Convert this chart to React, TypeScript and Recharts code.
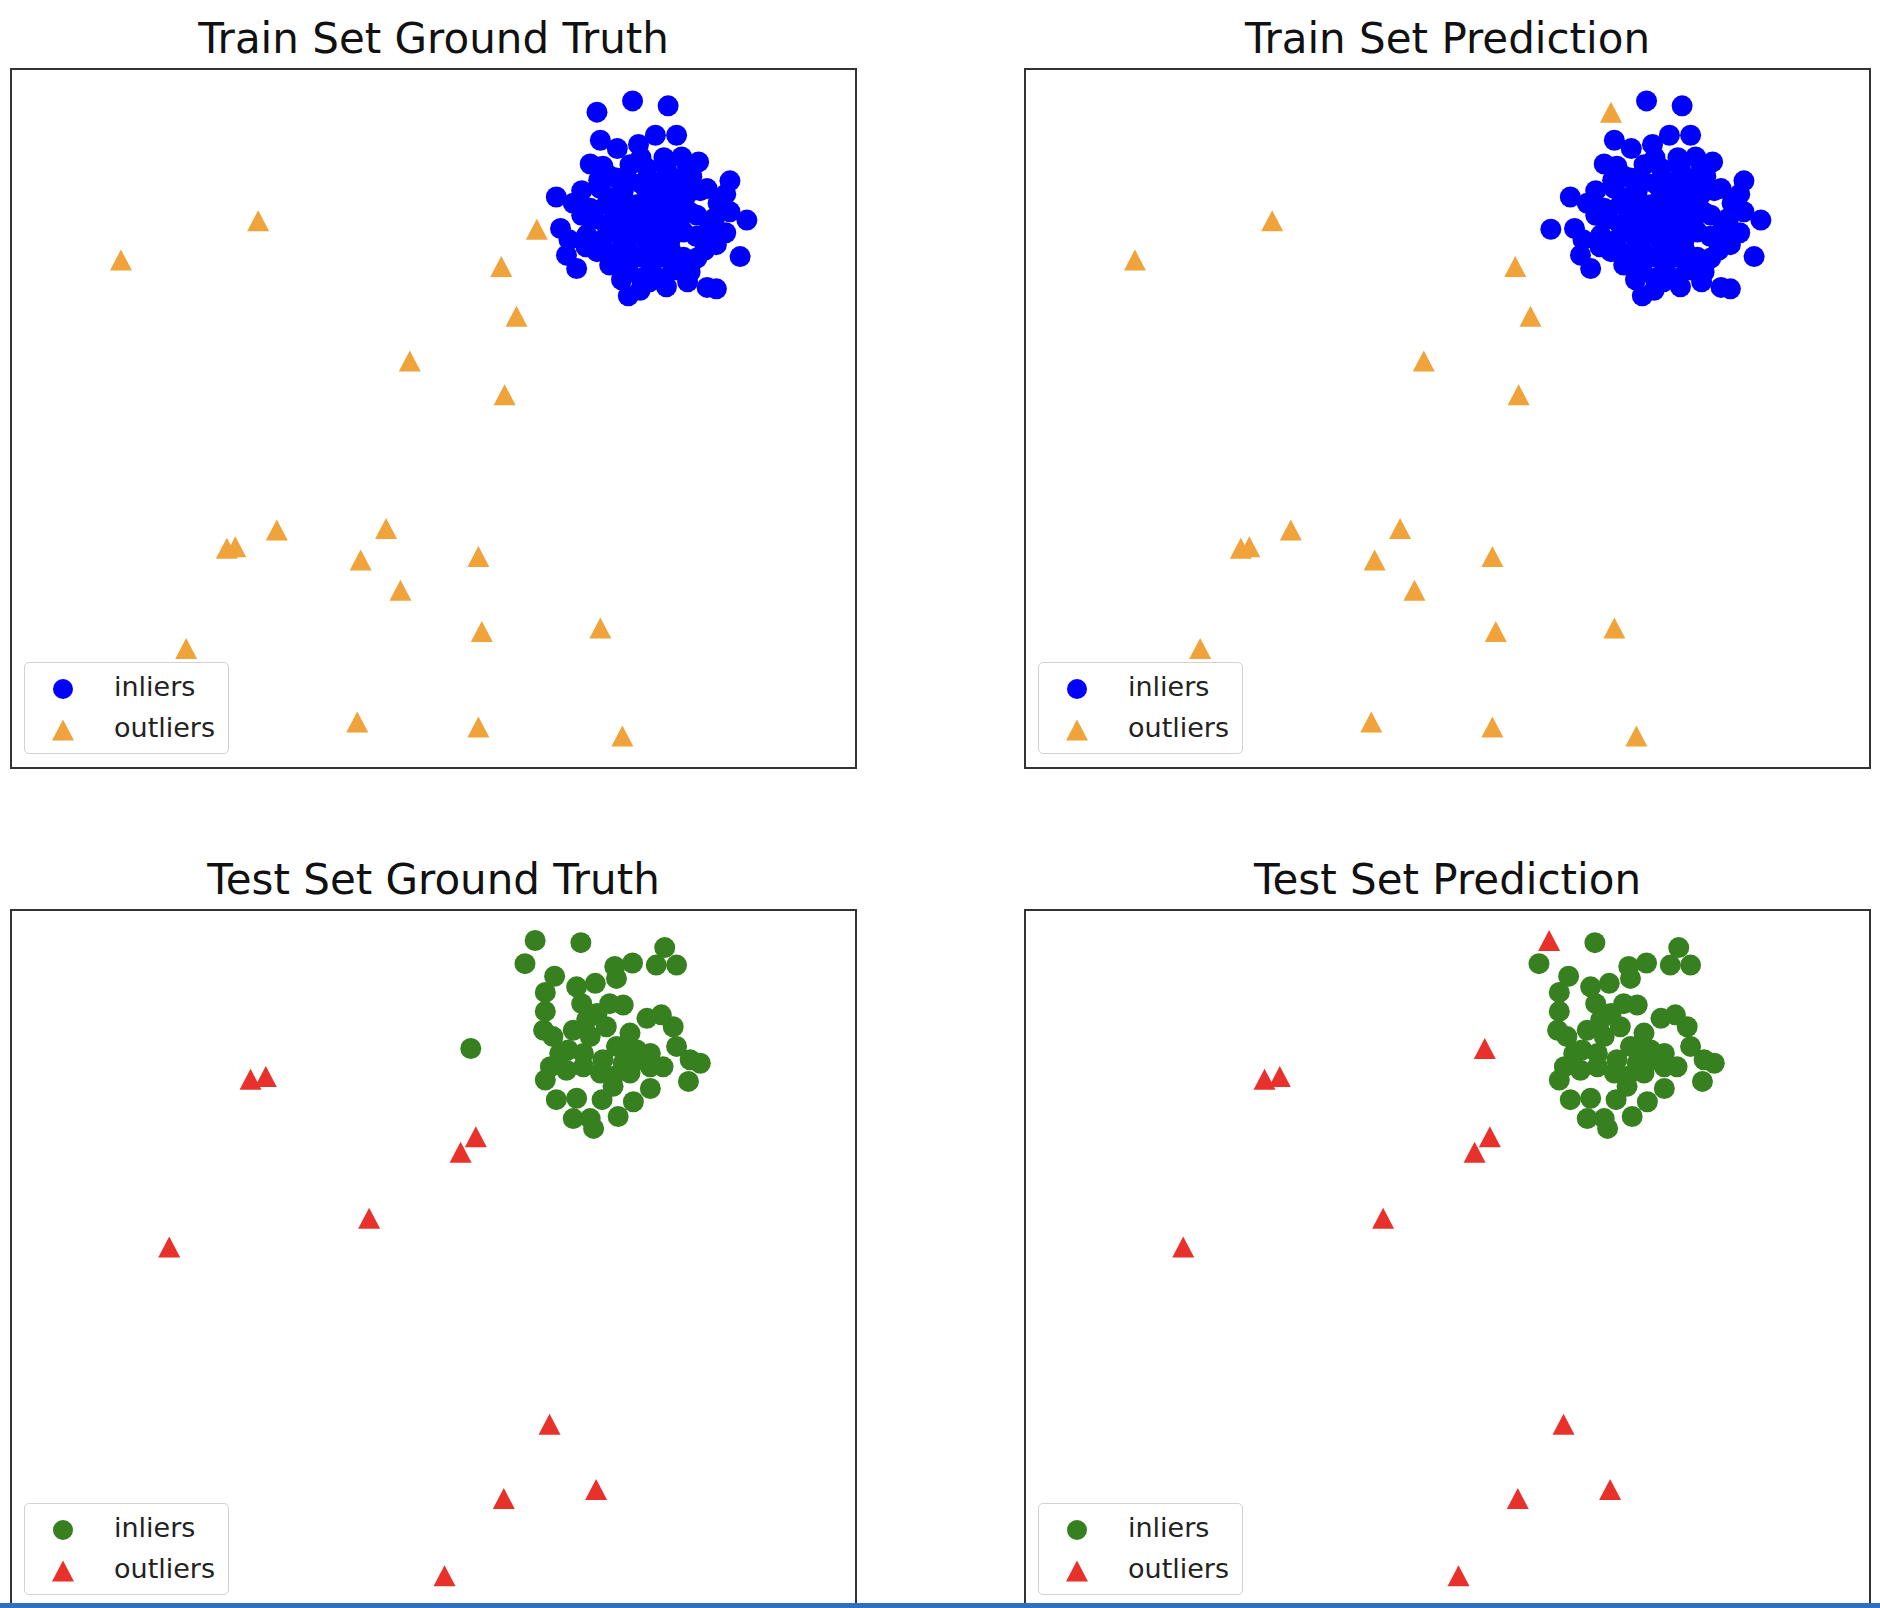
import { ScatterChart, Scatter, XAxis, YAxis, Legend } from 'recharts';

type Pt = { x: number; y: number };

// train set, inliers (the dense blob top right)
const trainInliers: Pt[] = [
  { x: 7.35, y: 9.53 }, { x: 7.77, y: 9.46 }, { x: 6.93, y: 9.37 }, { x: 6.97, y: 8.97 },
  { x: 7.17, y: 8.85 }, { x: 7.42, y: 8.91 }, { x: 7.62, y: 9.04 }, { x: 7.87, y: 9.04 },
  { x: 7.93, y: 8.73 }, { x: 8.13, y: 8.66 }, { x: 6.85, y: 8.63 }, { x: 8.5, y: 8.39 },
  { x: 6.45, y: 8.16 }, { x: 6.65, y: 8.07 }, { x: 8.7, y: 7.83 }, { x: 6.5, y: 7.71 },
  { x: 8.62, y: 7.31 }, { x: 6.57, y: 7.33 }, { x: 6.69, y: 7.14 }, { x: 7.22, y: 6.98 },
  { x: 7.3, y: 6.75 }, { x: 7.44, y: 6.83 }, { x: 7.75, y: 6.88 }, { x: 8.23, y: 6.87 },
  { x: 8.34, y: 6.85 }, { x: 8.36, y: 8.07 }, { x: 8.23, y: 8.28 }, { x: 8.34, y: 7.48 },
  { x: 8.03, y: 7.09 }, { x: 7.08, y: 8.46 }, { x: 7.32, y: 8.62 }, { x: 7.52, y: 8.57 },
  { x: 7.75, y: 8.57 }, { x: 8.05, y: 8.45 }, { x: 6.97, y: 8.28 }, { x: 6.85, y: 8.0 },
  { x: 6.81, y: 7.62 }, { x: 6.93, y: 7.38 }, { x: 7.08, y: 7.19 }, { x: 7.56, y: 7.09 },
  { x: 7.83, y: 7.14 }, { x: 8.11, y: 7.29 }, { x: 8.23, y: 7.66 }, { x: 8.11, y: 7.9 },
  { x: 8.32, y: 7.86 }, { x: 7.24, y: 8.24 }, { x: 7.52, y: 8.24 }, { x: 7.83, y: 8.24 },
  { x: 7.24, y: 7.86 }, { x: 7.52, y: 7.86 }, { x: 7.83, y: 7.86 }, { x: 7.24, y: 7.52 },
  { x: 7.52, y: 7.52 }, { x: 7.79, y: 7.52 }, { x: 7.04, y: 7.76 }, { x: 7.99, y: 8.19 },
  { x: 7.36, y: 7.29 }, { x: 7.67, y: 7.43 }, { x: 7.04, y: 8.05 }, { x: 7.95, y: 7.66 },
  { x: 7.4, y: 8.05 }, { x: 7.67, y: 8.05 }, { x: 7.67, y: 7.71 }, { x: 7.36, y: 7.66 },
  { x: 7.16, y: 8.43 }, { x: 7.83, y: 8.38 },
  { x: 6.75, y: 7.9 }, { x: 6.75, y: 8.25 }, { x: 6.8, y: 7.45 }, { x: 7.0, y: 7.55 },
  { x: 7.0, y: 8.6 }, { x: 7.1, y: 8.15 }, { x: 7.12, y: 7.35 }, { x: 7.15, y: 7.95 },
  { x: 7.3, y: 8.4 }, { x: 7.3, y: 8.0 }, { x: 7.3, y: 7.75 }, { x: 7.3, y: 7.4 },
  { x: 7.3, y: 7.1 }, { x: 7.45, y: 8.72 }, { x: 7.45, y: 8.35 }, { x: 7.45, y: 7.95 },
  { x: 7.45, y: 7.62 }, { x: 7.45, y: 7.3 }, { x: 7.45, y: 7.0 }, { x: 7.62, y: 8.15 },
  { x: 7.6, y: 7.9 }, { x: 7.6, y: 7.6 }, { x: 7.6, y: 7.25 }, { x: 7.72, y: 8.72 },
  { x: 7.72, y: 8.35 }, { x: 7.72, y: 7.95 }, { x: 7.72, y: 7.62 }, { x: 7.72, y: 7.3 },
  { x: 7.72, y: 7.0 }, { x: 7.9, y: 8.42 }, { x: 7.9, y: 8.05 }, { x: 7.9, y: 7.78 },
  { x: 7.88, y: 7.12 }, { x: 8.0, y: 8.58 }, { x: 8.02, y: 7.95 }, { x: 8.1, y: 7.6 },
  { x: 8.2, y: 7.4 }, { x: 8.45, y: 7.65 }, { x: 8.45, y: 8.2 }, { x: 8.15, y: 8.25 },
  { x: 6.6, y: 7.55 }, { x: 8.5, y: 7.95 }, { x: 7.55, y: 6.95 }, { x: 8.0, y: 6.95 },
  { x: 6.9, y: 7.85 }, { x: 7.18, y: 7.65 }, { x: 7.38, y: 7.85 }, { x: 7.58, y: 8.38 },
  { x: 7.82, y: 8.1 }, { x: 7.95, y: 7.3 }, { x: 7.6, y: 7.75 }, { x: 7.2, y: 8.1 },
  { x: 6.95, y: 8.4 }, { x: 8.3, y: 7.62 }, { x: 7.15, y: 7.25 }, { x: 7.8, y: 7.4 },
];

const trainOutliers: Pt[] = [
  { x: 1.31, y: 7.26 }, { x: 2.93, y: 7.82 }, { x: 6.22, y: 7.7 }, { x: 5.8, y: 7.17 },
  { x: 5.98, y: 6.46 }, { x: 4.72, y: 5.82 }, { x: 5.84, y: 5.34 }, { x: 2.56, y: 3.15 },
  { x: 2.66, y: 3.17 }, { x: 3.15, y: 3.41 }, { x: 4.44, y: 3.43 }, { x: 4.14, y: 2.98 },
  { x: 5.53, y: 3.03 }, { x: 4.61, y: 2.55 }, { x: 5.57, y: 1.96 }, { x: 6.97, y: 2.01 },
  { x: 2.08, y: 1.72 }, { x: 4.1, y: 0.67 }, { x: 5.53, y: 0.6 }, { x: 7.23, y: 0.47 },
];

const testInliers: Pt[] = [
  { x: 6.2, y: 9.55 }, { x: 6.74, y: 9.52 }, { x: 6.08, y: 9.22 }, { x: 7.73, y: 9.45 },
  { x: 7.63, y: 9.2 }, { x: 7.87, y: 9.2 }, { x: 7.35, y: 9.23 }, { x: 7.14, y: 9.18 },
  { x: 7.16, y: 9.01 }, { x: 6.43, y: 9.04 }, { x: 6.32, y: 8.81 }, { x: 6.69, y: 8.89 },
  { x: 6.91, y: 8.94 }, { x: 6.75, y: 8.65 }, { x: 7.08, y: 8.65 }, { x: 7.24, y: 8.63 },
  { x: 6.32, y: 8.54 }, { x: 6.3, y: 8.27 }, { x: 6.41, y: 8.18 }, { x: 7.52, y: 8.44 },
  { x: 7.69, y: 8.49 }, { x: 7.83, y: 8.32 }, { x: 7.87, y: 8.04 }, { x: 6.65, y: 8.27 },
  { x: 6.85, y: 8.18 }, { x: 7.04, y: 8.32 }, { x: 7.32, y: 8.23 }, { x: 7.16, y: 8.04 },
  { x: 7.4, y: 7.99 }, { x: 7.56, y: 7.94 }, { x: 7.71, y: 7.75 }, { x: 8.03, y: 7.85 },
  { x: 8.15, y: 7.8 }, { x: 8.01, y: 7.54 }, { x: 6.38, y: 7.75 }, { x: 6.32, y: 7.56 },
  { x: 6.57, y: 7.7 }, { x: 6.77, y: 7.75 }, { x: 6.59, y: 7.99 }, { x: 7.0, y: 7.85 },
  { x: 7.24, y: 7.8 }, { x: 7.12, y: 7.61 }, { x: 7.32, y: 7.66 }, { x: 7.56, y: 7.44 },
  { x: 6.45, y: 7.28 }, { x: 6.69, y: 7.3 }, { x: 6.99, y: 7.28 }, { x: 7.12, y: 7.47 },
  { x: 7.36, y: 7.25 }, { x: 6.65, y: 7.01 }, { x: 6.85, y: 7.01 }, { x: 6.89, y: 6.87 },
  { x: 7.18, y: 7.04 }, { x: 6.81, y: 8.42 }, { x: 6.93, y: 8.51 }, { x: 5.44, y: 8.01 },
  { x: 6.49, y: 7.94 }, { x: 7.56, y: 7.75 }, { x: 6.97, y: 7.66 }, { x: 7.24, y: 8.04 },
  { x: 6.77, y: 7.94 }, { x: 7.4, y: 7.85 },
];

const testOutliers: Pt[] = [
  { x: 2.84, y: 7.57 }, { x: 3.02, y: 7.61 }, { x: 5.5, y: 6.75 }, { x: 5.32, y: 6.53 },
  { x: 4.24, y: 5.59 }, { x: 1.88, y: 5.18 }, { x: 6.37, y: 2.65 }, { x: 5.83, y: 1.59 },
  { x: 6.92, y: 1.72 }, { x: 5.13, y: 0.49 },
];

// points the detector labelled the other way round
const trainInliersFlagged = [2];
const trainOutliersMissed = [2];
const testInliersFlagged = [0, 55];
const testOutliersMissed: number[] = [];

const BLUE = '#0000ff';
const ORANGE = '#f0a33a';
const GREEN = '#37801f';
const RED = '#e8312a';

const PLOT_W = 847;
const PLOT_H = 701;

function predict(inliers: Pt[], outliers: Pt[], flagged: number[], missed: number[]) {
  return {
    inliers: [
      ...inliers.filter((_, i) => !flagged.includes(i)),
      ...outliers.filter((_, i) => missed.includes(i)),
    ],
    outliers: [
      ...outliers.filter((_, i) => !missed.includes(i)),
      ...inliers.filter((_, i) => flagged.includes(i)),
    ],
  };
}

const trianglePath = (cx: number, cy: number, w = 22, h = 21) =>
  `M${cx},${cy - h / 2}L${cx + w / 2},${cy + h / 2}L${cx - w / 2},${cy + h / 2}Z`;

function LegendBox({ payload }: { payload?: any[] }) {
  return (
    <div
      style={{
        width: 205,
        height: 92,
        boxSizing: 'border-box',
        border: '1.5px solid #d2d2d2',
        borderRadius: 5,
        background: 'rgba(255,255,255,0.8)',
        position: 'relative',
      }}
    >
      {(payload ?? []).map((entry, i) => (
        <div
          key={entry.value}
          style={{ position: 'absolute', left: 0, top: 4 + i * 41, height: 41, width: 205 }}
        >
          <svg width={40} height={43} style={{ position: 'absolute', left: 18, top: 0 }}>
            {entry.type === 'triangle' ? (
              <path d={trianglePath(20, 22)} fill={entry.color} />
            ) : (
              <circle cx={20} cy={22} r={10} fill={entry.color} />
            )}
          </svg>
          <span
            style={{
              position: 'absolute',
              left: 89,
              top: 5,
              fontSize: 27,
              lineHeight: '30px',
              color: '#222',
              fontFamily: 'DejaVu Sans',
            }}
          >
            {entry.value}
          </span>
        </div>
      ))}
    </div>
  );
}

interface PanelProps {
  title: string;
  left: number;
  top: number;
  inliers: Pt[];
  outliers: Pt[];
  inColor: string;
  outColor: string;
}

function Panel({ title, left, top, inliers, outliers, inColor, outColor }: PanelProps) {
  return (
    <>
      <div
        style={{
          position: 'absolute',
          left,
          top: top - 50,
          width: PLOT_W,
          textAlign: 'center',
          fontSize: 42,
          lineHeight: '42px',
          color: '#111',
        }}
      >
        {title}
      </div>
      <div style={{ position: 'absolute', left, top }}>
        <ScatterChart width={PLOT_W} height={PLOT_H} margin={{ top: 0, right: 0, bottom: 0, left: 0 }}>
          <XAxis type="number" dataKey="x" domain={[0, 10]} hide />
          <YAxis type="number" dataKey="y" domain={[0, 10]} hide />
          <Scatter
            name="inliers"
            data={inliers}
            fill={inColor}
            legendType="circle"
            isAnimationActive={false}
            shape={(p: any) => <circle cx={p.cx} cy={p.cy} r={10.5} fill={inColor} />}
          />
          <Scatter
            name="outliers"
            data={outliers}
            fill={outColor}
            legendType="triangle"
            isAnimationActive={false}
            shape={(p: any) => <path d={trianglePath(p.cx, p.cy)} fill={outColor} />}
          />
          <Legend
            layout="vertical"
            align="center"
            verticalAlign="middle"
            wrapperStyle={{ left: 14, top: 594, width: 'auto' }}
            content={(props: any) => <LegendBox payload={props.payload} />}
          />
        </ScatterChart>
        <div
          style={{
            position: 'absolute',
            left: 0,
            top: 0,
            width: PLOT_W,
            height: PLOT_H,
            boxSizing: 'border-box',
            border: '2px solid #333',
            pointerEvents: 'none',
          }}
        />
      </div>
    </>
  );
}

export default function App() {
  const trainPred = predict(trainInliers, trainOutliers, trainInliersFlagged, trainOutliersMissed);
  const testPred = predict(testInliers, testOutliers, testInliersFlagged, testOutliersMissed);
  return (
    <div
      style={{
        position: 'absolute',
        left: 0,
        top: 0,
        width: 1880,
        height: 1608,
        overflow: 'hidden',
        background: '#fff',
        fontFamily: 'DejaVu Sans',
      }}
    >
      <Panel title="Train Set Ground Truth" left={10} top={68} inliers={trainInliers} outliers={trainOutliers} inColor={BLUE} outColor={ORANGE} />
      <Panel title="Train Set Prediction" left={1024} top={68} inliers={trainPred.inliers} outliers={trainPred.outliers} inColor={BLUE} outColor={ORANGE} />
      <Panel title="Test Set Ground Truth" left={10} top={909} inliers={testInliers} outliers={testOutliers} inColor={GREEN} outColor={RED} />
      <Panel title="Test Set Prediction" left={1024} top={909} inliers={testPred.inliers} outliers={testPred.outliers} inColor={GREEN} outColor={RED} />
      <div style={{ position: 'absolute', left: 0, top: 1603, width: 1880, height: 5, background: '#2f6fc2' }} />
    </div>
  );
}
